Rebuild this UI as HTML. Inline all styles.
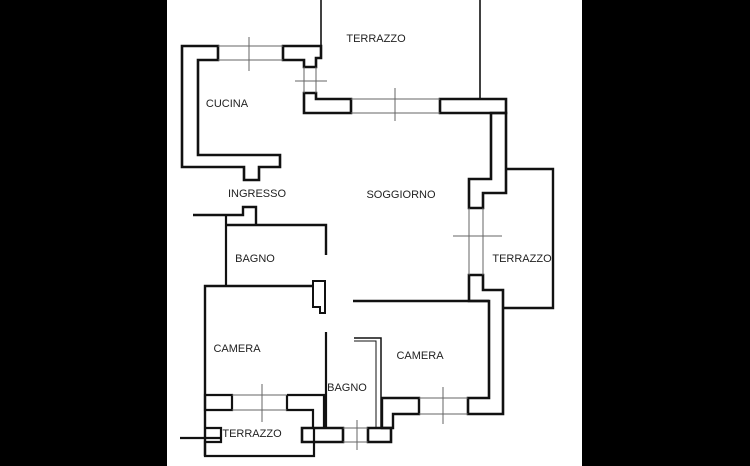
<!DOCTYPE html>
<html><head><meta charset="utf-8"><style>
html,body{margin:0;padding:0;background:#fff;}
svg{display:block}
text{font-family:"Liberation Sans",sans-serif;font-size:11px;fill:#222;}
</style></head><body>
<svg width="750" height="466" viewBox="0 0 750 466" xmlns="http://www.w3.org/2000/svg">
<rect x="0" y="0" width="167" height="466" fill="#000"/>
<rect x="582" y="0" width="168" height="466" fill="#000"/>
<g fill="none" stroke="#111" stroke-width="1.6">
<!-- top terrazzo -->
<polyline points="321,0 321,46"/>
<polyline points="480,0 480,99"/>
<!-- cucina wall -->
<polygon stroke-width="2.6" points="182,46 218,46 218,60 198,60 198,155 280,155 280,167 259,167 259,180 244,180 244,167 182,167"/>
<polygon stroke-width="2.6" points="283,46 321,46 321,58 316,58 316,67 304,67 304,60 283,60"/>
<polygon stroke-width="2.6" points="304,93 316,93 316,99 351,99 351,113 304,113"/>
<polygon stroke-width="2.6" points="440,99 506,99 506,113 440,113"/>
<polygon stroke-width="2.6" points="491,113 506,113 506,193 483,193 483,208 469,208 469,179 491,179"/>
<polygon stroke-width="2.6" points="469,275 483,275 483,290 503,290 503,414 468,414 468,398 489,398 489,301 469,301"/>
<!-- right terrazzo -->
<polyline stroke-width="2.4" points="506,169 553,169 553,308 503,308"/>
<!-- camera right -->
<polyline stroke-width="2.4" points="353,301 489,301"/>
<polygon stroke-width="2.4" points="382,398 419,398 419,414 393,414 393,428 382,428"/>
<polyline stroke-width="1.5" points="354,338 381,338 381,428"/>
<polyline stroke-width="1" points="354,341 376,341 376,428"/>
<!-- ingresso / bagno -->
<polyline stroke-width="2.4" points="193,215 243,215 243,207 256,207 256,225"/>
<polyline stroke-width="2.4" points="226,225 326,225 326,255"/>
<polyline stroke-width="2.2" points="226,215 226,286"/>
<!-- camera left -->
<polyline stroke-width="2.4" points="205,456 205,286 313,286"/>
<polygon stroke-width="2" points="313,281 325,281 325,313 320,313 320,307 313,307"/>
<polyline stroke-width="2.2" points="326,332 326,428"/>
<polygon stroke-width="2.2" points="205,395 232,395 232,410 205,410"/>
<polyline stroke-width="2.2" points="287,395 324,395 324,428"/>
<polyline stroke-width="2.2" points="287,395 287,410 313,410 313,428"/>
<polyline stroke-width="2.2" points="205,428 221,428 221,442 205,442 205,456 314,456 314,428"/>
<polyline stroke-width="2.2" points="180,438 221,438"/>
<polygon stroke-width="2.6" points="302,428 343,428 343,442 302,442"/>
<polygon stroke-width="2.6" points="368,428 391,428 391,442 368,442"/>
</g>
<!-- windows -->
<g stroke="#666" stroke-width="1" fill="none">
<line x1="218" y1="46" x2="283" y2="46"/><line x1="218" y1="60" x2="283" y2="60"/>
<line x1="249" y1="37" x2="249" y2="71"/>
<line x1="304" y1="67" x2="304" y2="93"/><line x1="316" y1="67" x2="316" y2="93"/>
<line x1="295" y1="81" x2="327" y2="81"/>
<line x1="351" y1="99" x2="440" y2="99"/><line x1="351" y1="113" x2="440" y2="113"/>
<line x1="395" y1="88" x2="395" y2="121"/>
<line x1="469" y1="208" x2="469" y2="275"/><line x1="483" y1="208" x2="483" y2="275"/>
<line x1="453" y1="236" x2="502" y2="236"/>
<line x1="419" y1="398" x2="468" y2="398"/><line x1="419" y1="414" x2="468" y2="414"/>
<line x1="443" y1="387" x2="443" y2="424"/>
<line x1="232" y1="395" x2="287" y2="395"/><line x1="232" y1="410" x2="287" y2="410"/>
<line x1="262" y1="384" x2="262" y2="422"/>
<line x1="343" y1="428" x2="368" y2="428"/><line x1="343" y1="442" x2="368" y2="442"/>
<line x1="357" y1="420" x2="357" y2="450"/>
</g>
<text x="376" y="42" text-anchor="middle">TERRAZZO</text>
<text x="227" y="107" text-anchor="middle">CUCINA</text>
<text x="257" y="197" text-anchor="middle">INGRESSO</text>
<text x="401" y="198" text-anchor="middle">SOGGIORNO</text>
<text x="255" y="262" text-anchor="middle">BAGNO</text>
<text x="522" y="262" text-anchor="middle">TERRAZZO</text>
<text x="237" y="352" text-anchor="middle">CAMERA</text>
<text x="420" y="359" text-anchor="middle">CAMERA</text>
<text x="347" y="391" text-anchor="middle">BAGNO</text>
<text x="252" y="437" text-anchor="middle">TERRAZZO</text>
</svg>
</body></html>
